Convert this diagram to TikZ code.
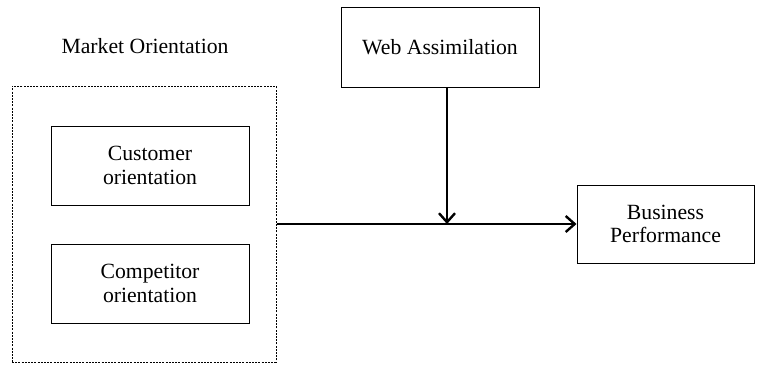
\documentclass[tikz,border=0pt]{standalone}
\usepackage{fontspec}
\setmainfont{Liberation Serif}
\usetikzlibrary{arrows.meta}

\begin{document}
\begin{tikzpicture}[
    x=0.5pt,y=-0.5pt,
    every node/.style={
        font=\fontsize{10.85pt}{11.8pt}\selectfont,
        align=center,
        inner sep=0pt,
    },
    factor/.style n args={2}{
        draw,rectangle,
        line width=0.5pt,
        minimum width=#1pt,
        minimum height=#2pt,
    },
    group/.style={
        draw,rectangle,
        dash pattern=on 1pt off 0.6pt,
        line width=0.5pt,
        minimum width=132pt,
        minimum height=138pt,
    },
    link/.style={
        line width=1.2pt,
        -{Straight Barb[length=4.5pt,width=8pt,line width=1.2pt]},
    }
]
    \useasboundingbox (0,0) rectangle (763,365);
    % market orientation and its two parts
    \node[group] (mo) at (144,224) {};
    \node (molabel) at (145,46) {Market Orientation};
    \node[factor={99}{39.5}] (cust) at (150,165.5) {Customer\\orientation};
    \node[factor={99}{39.5}] (comp) at (150,283.5) {Competitor\\orientation};
    % moderator and outcome
    \node[factor={99}{40}] (web) at (440,47) {Web Assimilation};
    \node[factor={88.5}{39}] (perf) at (665.5,224) {Business\\Performance};
    \coordinate (wfoot) at ([xshift=3.5pt]web.south);
    \draw[link] (mo.east |- perf.west) -- (perf.west);
    \draw[link] (wfoot) -- (wfoot |- perf.west);
\end{tikzpicture}
\end{document}
